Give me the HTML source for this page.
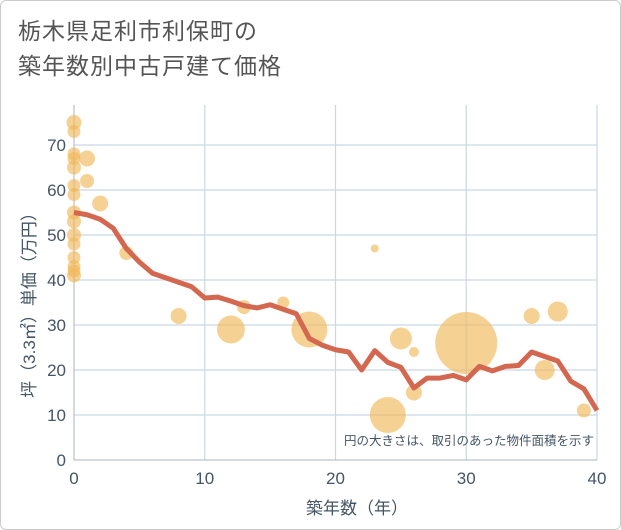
<!DOCTYPE html>
<html><head><meta charset="utf-8"><style>
body{margin:0;background:#fff}
#wrap{position:relative;width:619px;height:528px;border:1px solid #ccc;border-radius:6px;overflow:hidden;font-family:"Liberation Sans","Noto Sans CJK JP",sans-serif}
h1{position:absolute;left:17px;top:13px;margin:0;font-size:23px;font-weight:normal;color:#555;line-height:35px;letter-spacing:1px}
</style></head><body>
<div id="wrap">
<h1>栃木県足利市利保町の<br>築年数別中古戸建て価格</h1>
<svg id="c" width="621" height="530" style="position:absolute;left:0;top:0"></svg>
</div>
<script>
const lineYears=[0,1,2,3,4,5,6,7,8,9,10,11,12,13,14,15,16,17,18,19,20,21,22,23,24,25,26,27,28,29,30,31,32,33,34,35,36,37,38,39,40];
const lineValues=[55,54.5,53.5,51.5,47,44,41.5,40.5,39.5,38.5,36,36.2,35.3,34.3,33.8,34.5,33.5,32.5,27,25.5,24.5,24,20,24.3,21.7,20.6,16,18.2,18.2,18.8,17.8,20.8,19.8,20.8,21,24,23,22,17.5,15.8,11];
const bubbleYears=[0,0,0,0,0,0,0,0,0,0,0,0,0,0,0,1,1,2,4,8,12,13,16,18,23,24,25,26,26,30,35,36,37,39];
const bubbleValues=[75,73,68,67,65,61,59,55,53,50,48,45,43,42,41,67,62,57,46,32,29,34,35,29,47,10,27,15,24,26,32,20,33,11];
const bubbleSizes=[56,42,42,42,49,42,42,49,49,49,42,42,42,42,49,64,49,64,49,64,196,49,36,324,16,324,121,64,25,961,64,100,100,49];
const xTicks=[0,10,20,30,40];
const yTicks=[0,10,20,30,40,50,60,70];
const X0=73,X1=596,Y0=459,Yk=4.5;
const xs=v=>X0+(X1-X0)*v/40, ys=v=>Y0-v*Yk;
const svg=document.getElementById('c');const NS='http://www.w3.org/2000/svg';
function mk(t,a,p){const e=document.createElementNS(NS,t);for(const k in a)e.setAttribute(k,a[k]);(p||svg).appendChild(e);return e;}
const grid=mk('g',{});


yTicks.forEach(v=>{if(v>0){mk('line',{x1:X0,x2:X1,y1:ys(v),y2:ys(v),stroke:'#c9d8e6','stroke-width':1.2},grid);}
const t=mk('text',{x:X0-8,y:ys(v)+6,'text-anchor':'end','font-size':17,fill:'#445566'});t.textContent=v;

});
xTicks.forEach(v=>{if(v>0)mk('line',{x1:xs(v),x2:xs(v),y1:104,y2:Y0,stroke:'#c9d8e6','stroke-width':1.2},grid);
const t=mk('text',{x:xs(v),y:Y0+24,'text-anchor':'middle','font-size':17,fill:'#445566'});t.textContent=v;

});
mk('line',{x1:X0,x2:X0,y1:104,y2:Y0,stroke:'#aab4c0'});
mk('line',{x1:X0,x2:X1,y1:Y0,y2:Y0,stroke:'#aab4c0'});
const bg=mk('g',{});


bubbleYears.forEach((y,i)=>{const c=mk('circle',{cx:xs(y),cy:ys(bubbleValues[i]),r:Math.sqrt(bubbleSizes[i]),fill:'#f0b95a','fill-opacity':0.65},bg);

});
const p=mk('polyline',{points:lineYears.map((y,i)=>xs(y)+','+ys(lineValues[i])).join(' '),fill:'none',stroke:'#d4674f','stroke-width':5,'stroke-linejoin':'round'});


const n=mk('text',{x:593,y:444,'text-anchor':'end','font-size':12.5,fill:'#445566'});n.textContent='円の大きさは、取引のあった物件面積を示す';


const xt=mk('text',{x:356,y:513,'text-anchor':'middle','font-size':17,fill:'#445566'});xt.textContent='築年数（年）';


const yt=mk('text',{x:0,y:0,'text-anchor':'middle','font-size':17,fill:'#445566',transform:'translate(34,300) rotate(-90)'});yt.textContent='坪（3.3㎡）単価（万円）';


</script>
</body></html>
